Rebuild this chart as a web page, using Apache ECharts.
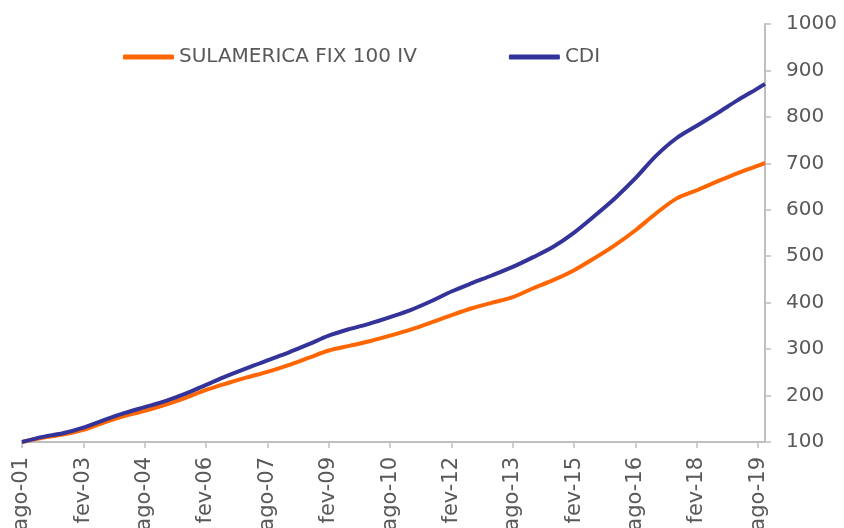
<!DOCTYPE html>
<html>
<head>
<meta charset="utf-8">
<script src="https://cdn.jsdelivr.net/npm/echarts@6/dist/echarts.min.js"></script>
<style>
  html, body { margin: 0; padding: 0; background: #fff; }
  #chart { width: 844px; height: 528px; }
</style>
</head>
<body>
<div id="chart"></div>
<script>
// meses (eixo categórico mensal, ago-01 .. out-19)
const monthNames = ['jan', 'fev', 'mar', 'abr', 'mai', 'jun', 'jul', 'ago', 'set', 'out', 'nov', 'dez']
const months = []
for (let y = 2001; y <= 2019; y++) {
  for (let m = 0; m < 12; m++) {
    if (y === 2001 && m < 7) continue
    if (y === 2019 && m > 9) continue
    months.push(monthNames[m] + '-' + String(y).slice(2))
  }
}

// leituras semestrais do gráfico
const sampleDates = [
  'ago-01', 'fev-02', 'ago-02', 'fev-03', 'ago-03', 'fev-04', 'ago-04', 'fev-05', 'ago-05',
  'fev-06', 'ago-06', 'fev-07', 'ago-07', 'fev-08', 'ago-08', 'fev-09', 'ago-09', 'fev-10',
  'ago-10', 'fev-11', 'ago-11', 'fev-12', 'ago-12', 'fev-13', 'ago-13', 'fev-14', 'ago-14',
  'fev-15', 'ago-15', 'fev-16', 'ago-16', 'fev-17', 'ago-17', 'fev-18', 'ago-18', 'fev-19',
  'ago-19', 'out-19'
]
const sulamerica = [
  100, 109, 116, 126, 142, 156, 167, 180, 195,
  212, 226, 239, 251, 265, 281, 297, 307, 317,
  329, 342, 357, 373, 388, 400, 412, 431, 449,
  470, 496, 524, 556, 592, 624, 642, 661, 679,
  695, 701
]
const cdi = [
  100, 111, 119, 131, 147, 162, 175, 188, 204,
  223, 242, 259, 276, 292, 310, 329, 343, 355,
  369, 384, 403, 424, 442, 459, 477, 498, 521,
  551, 587, 625, 668, 716, 754, 781, 808, 836,
  862, 871
]

const seriesNames = ['SULAMERICA FIX 100 IV', 'CDI']
const textColor = '#595959'
const axisColor = '#bfbfbf'

const chart = echarts.init(document.getElementById('chart'))
chart.setOption({
  backgroundColor: '#fff',
  animation: false,
  textStyle: { fontFamily: 'DejaVu Sans' },
  legend: {
    data: seriesNames,
    left: 118,
    top: 42,
    itemWidth: 51,
    itemHeight: 5,
    itemGap: 92,
    icon: 'roundRect',
    textStyle: {
      color: textColor,
      fontSize: 20
    }
  },
  grid: {
    left: 22,
    right: 79,
    top: 24,
    bottom: 86,
    outerBoundsMode: 'none',
    containLabel: false
  },
  xAxis: {
    type: 'category',
    data: months,
    boundaryGap: false,
    axisLine: {
      lineStyle: { color: axisColor, width: 2 }
    },
    axisTick: {
      interval: 17,
      length: 6,
      lineStyle: { color: axisColor, width: 1.5 }
    },
    axisLabel: {
      interval: 17,
      rotate: 90,
      margin: 15,
      color: textColor,
      fontSize: 21
    },
    splitLine: { show: false }
  },
  yAxis: {
    type: 'value',
    position: 'right',
    min: 100,
    max: 1000,
    interval: 100,
    axisLine: {
      show: true,
      lineStyle: { color: axisColor, width: 2 }
    },
    axisTick: {
      show: true,
      length: 6,
      lineStyle: { color: axisColor, width: 1.5 }
    },
    axisLabel: {
      margin: 21,
      color: textColor,
      fontSize: 20,
      formatter: v => String(v)
    },
    splitLine: { show: false }
  },
  series: [
    {
      name: seriesNames[0],
      type: 'line',
      data: sampleDates.map((d, i) => [d, sulamerica[i]]),
      smooth: 0.3,
      symbol: 'none',
      itemStyle: { color: '#ff6600' },
      lineStyle: { width: 4, color: '#ff6600' }
    },
    {
      name: seriesNames[1],
      type: 'line',
      data: sampleDates.map((d, i) => [d, cdi[i]]),
      smooth: 0.3,
      symbol: 'none',
      itemStyle: { color: '#333399' },
      lineStyle: { width: 4, color: '#333399' }
    }
  ]
})
</script>
</body>
</html>
